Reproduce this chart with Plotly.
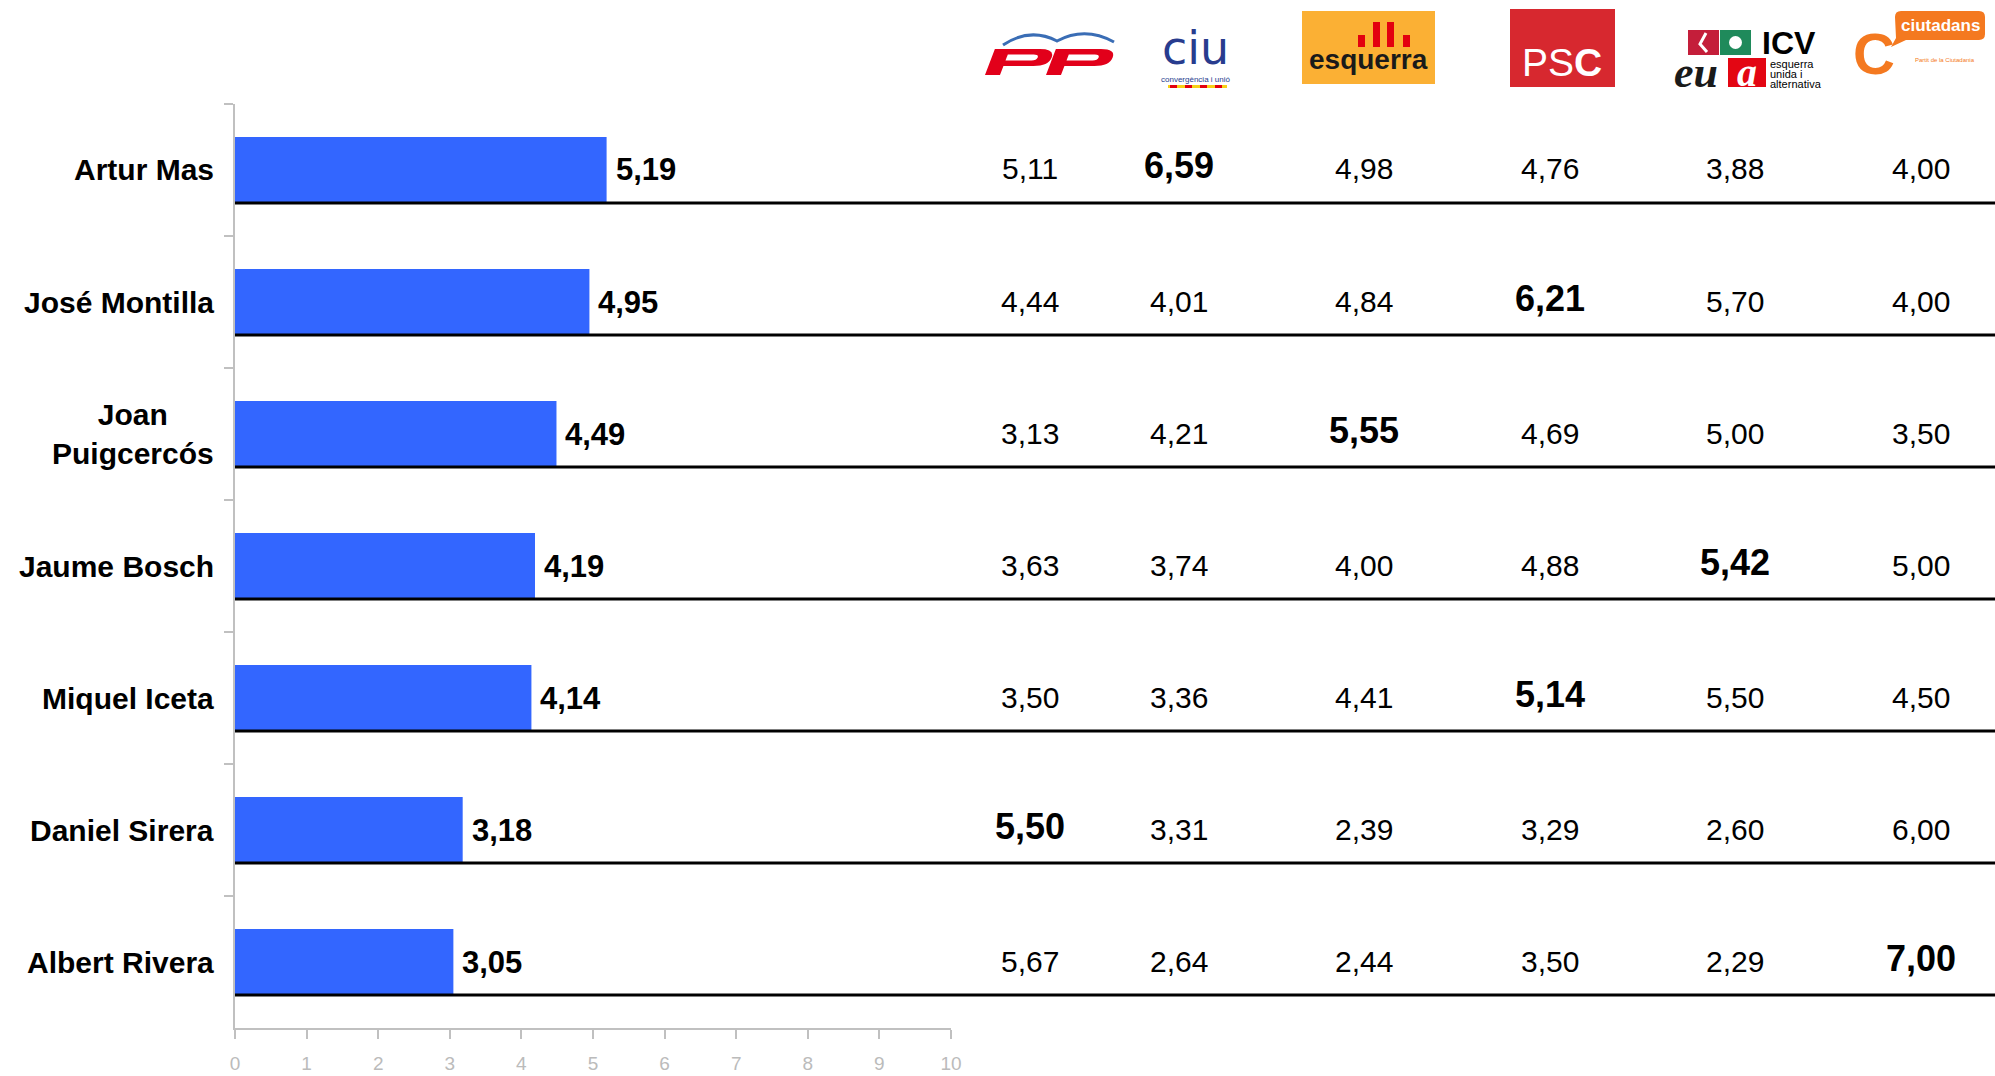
import plotly.graph_objects as go

# ---------------- data ----------------
candidates = ["Artur Mas", "José Montilla", "Joan Puigcercós", "Jaume Bosch",
              "Miquel Iceta", "Daniel Sirera", "Albert Rivera"]
candidate_labels = ["Artur Mas", "José Montilla", "Joan<br>Puigcercós", "Jaume Bosch",
                    "Miquel Iceta", "Daniel Sirera", "Albert Rivera"]
overall = [5.19, 4.95, 4.49, 4.19, 4.14, 3.18, 3.05]

parties = ["PP", "CiU", "ERC", "PSC", "ICV-EUiA", "C's"]
pp_vals = [5.11, 4.44, 3.13, 3.63, 3.50, 5.50, 5.67]
ciu_vals = [6.59, 4.01, 4.21, 3.74, 3.36, 3.31, 2.64]
erc_vals = [4.98, 4.84, 5.55, 4.00, 4.41, 2.39, 2.44]
psc_vals = [4.76, 6.21, 4.69, 4.88, 5.14, 3.29, 3.50]
icv_vals = [3.88, 5.70, 5.00, 5.42, 5.50, 2.60, 2.29]
cs_vals = [4.00, 4.00, 3.50, 5.00, 4.50, 6.00, 7.00]
own_party = ["CiU", "PSC", "ERC", "ICV-EUiA", "PSC", "PP", "C's"]
x_ticks = list(range(0, 11))

# ---------------- layout helpers ----------------
OFF = 0
FW, FH = 1995, 1076
FONT = "Liberation Sans, Arial, sans-serif"


def px(x):
    return (x - OFF) / FW


def py(y):
    return 1 - (y - OFF) / FH


def fmt(v):
    return f"{v:.2f}".replace(".", ",")


def path(tokens):
    out = []
    for t in tokens:
        if isinstance(t, str):
            out.append(t)
        else:
            out.append(f"{px(t[0]):.5f},{py(t[1]):.5f}")
    return " ".join(out)


shapes = []
annotations = []


def rect(x0, y0, x1, y1, color, layer="above"):
    shapes.append(dict(type="rect", xref="paper", yref="paper",
                       x0=px(x0), x1=px(x1), y0=py(y1), y1=py(y0),
                       fillcolor=color, line=dict(width=0), layer=layer))


def text(x, y, s, size, color="black", bold=False, family=FONT, xanchor="center",
         yanchor="middle", italic=False, align="center"):
    f = dict(size=size, color=color, family=family)
    if bold:
        f["weight"] = "bold"
    if italic:
        f["style"] = "italic"
    annotations.append(dict(xref="paper", yref="paper", x=px(x), y=py(y), text=s,
                            showarrow=False, font=f, xanchor=xanchor,
                            yanchor=yanchor, align=align, borderpad=0))


# ---------------- figure ----------------
fig = go.Figure()
fig.add_trace(go.Bar(
    y=candidates, x=overall, orientation="h", width=0.5,
    marker=dict(color="#3366FF", line=dict(width=0)),
    hoverinfo="skip",
))

x_left = 235
x_right = 951
y_top = 104
y_bottom = 1028

# candidate labels, bar value labels, row lines
for i, (c, lab, v) in enumerate(zip(candidates, candidate_labels, overall)):
    annotations.append(dict(xref="paper", yref="y", x=px(216), y=c, text=lab,
                            showarrow=False, xanchor="right", yanchor="middle",
                            align="center",
                            font=dict(size=30, color="black", family=FONT, weight="bold")))
    annotations.append(dict(xref="x", yref="y", x=v, y=c, text=fmt(v),
                            showarrow=False, xanchor="left", yanchor="middle",
                            xshift=7,
                            font=dict(size=31, color="black", family=FONT, weight="bold")))
    shapes.append(dict(type="line", xref="paper", yref="y",
                       x0=px(x_left), x1=1, y0=i + 0.25, y1=i + 0.25,
                       line=dict(color="black", width=3), layer="above"))

# party table
col_x = [1030, 1179, 1364, 1550, 1735, 1921]
table = [pp_vals, ciu_vals, erc_vals, psc_vals, icv_vals, cs_vals]
for p, cx, vals in zip(parties, col_x, table):
    for i, (c, v) in enumerate(zip(candidates, vals)):
        own = own_party[i] == p
        annotations.append(dict(
            xref="paper", yref="y", x=px(cx), y=c, text=fmt(v), showarrow=False,
            xanchor="center", yanchor="middle", yshift=4 if own else 1,
            font=dict(size=36 if own else 30, color="black", family=FONT,
                      weight="bold" if own else "normal")))

# ---------------- logos ----------------
# PP
shapes.append(dict(type="path", xref="paper", yref="paper",
                   path=path(["M", (1003, 45), "Q", (1030, 27), (1057, 41),
                              "Q", (1085, 26), (1114, 42)]),
                   line=dict(color="#3A6DB5", width=3), layer="above"))


def letter_p(x0, y0):
    def t(u, v):
        return (x0 + u + (26 - v) * 0.38, y0 + v)
    outer = ["M", t(0, 26), "L", t(0, 0), "L", t(45, 0), "Q", t(60, 0), t(60, 8.5),
             "Q", t(60, 17), t(45, 17), "L", t(15, 17), "L", t(15, 26), "Z"]
    inner = ["M", t(15, 5.5), "L", t(41, 5.5), "Q", t(46, 5.5), t(46, 8.5),
             "Q", t(46, 11.5), t(41, 11.5), "L", t(15, 11.5), "Z"]
    shapes.append(dict(type="path", xref="paper", yref="paper", path=path(outer),
                       fillcolor="#E2001A", line=dict(width=0), layer="above"))
    shapes.append(dict(type="path", xref="paper", yref="paper", path=path(inner),
                       fillcolor="white", line=dict(width=0), layer="above"))


letter_p(985, 49)
letter_p(1046, 49)

# CiU
text(1195, 48, "ciu", 46, color="#283C8E", family="DejaVu Sans, sans-serif")
text(1195, 79, "convergència i unió", 8, color="#283C8E")
rect(1168, 85, 1227, 88, "#F7D117")
for xs in [1170, 1185, 1200, 1215]:
    rect(xs, 85, xs + 7, 88, "#E3000F")

# Esquerra
rect(1302, 11, 1435, 84, "#FBB034")
for (a, b, top) in [(1358, 1365, 35), (1373, 1380, 22), (1387, 1394, 22), (1403, 1410, 35)]:
    rect(a, top, b, 47, "#E3000F")
text(1368, 60, "esquerra", 28, color="#1A1A1A", bold=True)

# PSC
rect(1510, 9, 1615, 87, "#D7282F")
text(1562, 63, "PS<b>C</b>", 39, color="white")

# ICV - EUiA
rect(1688, 30, 1719, 55, "#C41E3A")
rect(1720, 30, 1751, 55, "#1F8A5B")
shapes.append(dict(type="circle", xref="paper", yref="paper",
                   x0=px(1729), x1=px(1742), y0=py(49), y1=py(36),
                   fillcolor="white", line=dict(width=0), layer="above"))
shapes.append(dict(type="path", xref="paper", yref="paper",
                   path=path(["M", (1706, 33), "L", (1700, 44), "L", (1707, 52)]),
                   line=dict(color="white", width=3), layer="above"))
text(1789, 43, "ICV", 32, bold=True)
rect(1728, 58, 1766, 87, "#E30613")
text(1696, 73, "<i>eu</i>", 44, color="#1A1A1A", bold=True,
     family="Liberation Serif, serif")
text(1747, 73, "<i>a</i>", 40, color="white", bold=True,
     family="Liberation Serif, serif")
text(1769, 64, "esquerra", 11, xanchor="left")
text(1769, 74, "unida i", 11, xanchor="left")
text(1769, 84, "alternativa", 11, xanchor="left")

# Ciutadans
shapes.append(dict(type="path", xref="paper", yref="paper",
                   path=path(["M", (1901, 11), "L", (1979, 11), "Q", (1985, 11), (1985, 17),
                              "L", (1985, 34), "Q", (1985, 40), (1979, 40),
                              "L", (1906, 40), "L", (1891, 47), "L", (1896, 38),
                              "L", (1895, 17), "Q", (1895, 11), (1901, 11), "Z"]),
                   fillcolor="#F47920", line=dict(width=0), layer="above"))
text(1940, 25, "ciutadans", 17, color="white", bold=True)
text(1874, 53, "C", 58, color="#F47920", bold=True)
text(1945, 60, "Partit de la Ciutadania", 6, color="#F47920")

fig.update_layout(
    width=FW, height=FH,
    margin=dict(l=0, r=0, t=0, b=0, pad=0, autoexpand=False),
    paper_bgcolor="white", plot_bgcolor="white",
    showlegend=False,
    bargap=0.5,
    font=dict(family=FONT),
    xaxis=dict(domain=[px(x_left), px(x_right)], range=[0, 10],
               tickvals=x_ticks, ticktext=[str(t) for t in x_ticks],
               showgrid=False, zeroline=False, automargin=False,
               showline=True, linecolor="#C0C0C0", linewidth=2,
               ticks="outside", ticklen=9, tickwidth=2, tickcolor="#C0C0C0",
               tickfont=dict(size=19, color="#BBBBBB", family=FONT),
               ticklabelstandoff=8, fixedrange=True),
    yaxis=dict(domain=[py(y_bottom), py(y_top)], type="category",
               categoryorder="array", categoryarray=candidates,
               range=[6.5, -0.5], automargin=False,
               showgrid=False, zeroline=False,
               showline=True, linecolor="#C0C0C0", linewidth=2,
               ticks="outside", tickson="boundaries", ticklen=9, tickwidth=2,
               tickcolor="#C0C0C0", showticklabels=False, fixedrange=True),
    shapes=shapes,
    annotations=annotations,
)

fig.write_html(
    "out.html",
    config={"displayModeBar": False},
    post_script=("document.documentElement.style.margin='0';"
                 "document.body.style.margin='0';"
                 "document.documentElement.style.overflow='hidden';"
                 "document.body.style.overflow='hidden';"),
)
